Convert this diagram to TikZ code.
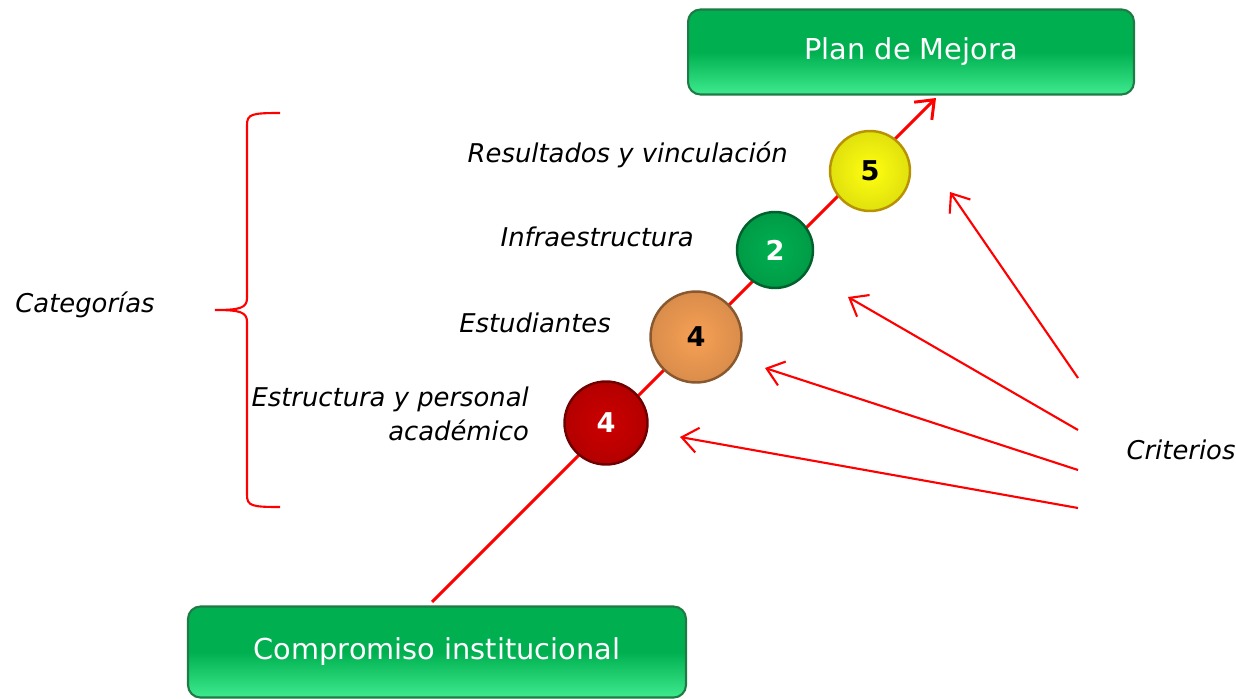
\documentclass[tikz,border=0pt]{standalone}
\usepackage{fontspec}
\setmainfont{DejaVu Sans}
\usetikzlibrary{arrows.meta,shadings}

\definecolor{verde}{HTML}{00B050}
\definecolor{verdeclaro}{HTML}{3EEA8E}
\definecolor{verdeborde}{HTML}{1F7A45}
\definecolor{rojo}{HTML}{CC0000}
\definecolor{naranja}{HTML}{F7A055}
\definecolor{verdebola}{HTML}{00B050}
\definecolor{amarillo}{HTML}{FFFF10}
\definecolor{dorado}{HTML}{B89200}

\begin{document}
\begin{tikzpicture}[x=0.02cm,y=-0.02cm,
	caja/.style={draw=verdeborde,line width=1.2pt,rounded corners=7pt,top color=verde,bottom color=verdeclaro,middle color=verde,text=white,font=\fontsize{16.4}{19}\selectfont},
	bola/.style={circle,draw=#1!55!black,line width=1.4pt,inner color=#1,outer color=#1!88!black,font=\fontsize{15.5}{17}\selectfont\bfseries},
	etiqueta/.style={font=\fontsize{14.7}{19}\selectfont\itshape},
	flecha/.style={draw=red,line width=1.2pt,-{Straight Barb[length=3.2mm,width=5mm]}}]
	\useasboundingbox (0,0) rectangle (1236,699);

	% cajas
	\node[caja,minimum width=8.92cm,minimum height=1.70cm] (plan) at (911,52) {Plan de Mejora};
	\node[caja,minimum width=9.96cm,minimum height=1.82cm] (compromiso) at (437,652) {Compromiso institucional};

	% linea principal
	\coordinate (inicio) at (432,602);
	\coordinate (fin) at (936,98);
	\draw[flecha,line width=1.7pt] (inicio) -- (fin);

	% criterios
	\node[bola=rojo,text=white,minimum size=1.66cm] (estr) at (606,423) {4};
	\node[bola=naranja,minimum size=1.82cm] (est) at (696,337) {4};
	\node[bola=verdebola,text=white,minimum size=1.52cm] (infra) at (775,250) {2};
	\node[bola=amarillo,draw=dorado,minimum size=1.60cm] (res) at (870,171) {5};

	% categorias
	\node[etiqueta,anchor=east] (lres) at (794,155) {Resultados y vinculación};
	\node[etiqueta,anchor=east] (linfra) at (700,237) {Infraestructura};
	\node[etiqueta,anchor=east] (lest) at (617,323) {Estudiantes};
	\node[etiqueta,anchor=east,align=right] (lestr) at (535,414) {Estructura y personal\\académico};

	\draw[red,line width=1.2pt] (280,113) .. controls (252,113) and (247,114) .. (247,125) -- (247,298)
		.. controls (247,308) and (240,310) .. (215,310) .. controls (240,310) and (247,312) .. (247,322)
		-- (247,495) .. controls (247,506) and (252,507) .. (280,507);
	\node[etiqueta] (cat) at (85,305) {Categorías};

	\node[etiqueta] (crit) at (1181,450) {Criterios};
	\coordinate (s1) at (1078,378);
	\coordinate (s2) at (1078,430);
	\coordinate (s3) at (1078,470);
	\coordinate (s4) at (1078,508);
	\coordinate (t1) at (950,192);
	\coordinate (t2) at (848,297);
	\coordinate (t3) at (765,368);
	\coordinate (t4) at (680,437);
	\draw[flecha] (s1) -- (t1);
	\draw[flecha] (s2) -- (t2);
	\draw[flecha] (s3) -- (t3);
	\draw[flecha] (s4) -- (t4);
\end{tikzpicture}
\end{document}
